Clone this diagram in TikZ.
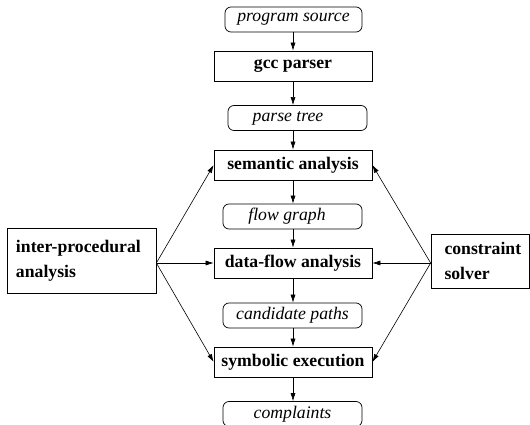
\documentclass[tikz,border=0pt]{standalone}
\usepackage{fontspec}
\setmainfont{Liberation Serif}
\newfontfamily\tms{Liberation Serif}
\usetikzlibrary{arrows.meta}
\begin{document}
\begin{tikzpicture}[x=1pt,y=-1pt,
  every node/.style={line width=0.7pt},
  proc/.style={draw, font=\tms\fontsize{17.7}{21}\selectfont\bfseries, inner sep=0pt, minimum width=158pt, minimum height=30pt},
  datum/.style={draw, rounded corners=6pt, font=\tms\fontsize{17.7}{21}\selectfont\itshape, inner sep=0pt, minimum width=139pt, minimum height=25pt},
  side/.style={draw, font=\tms\fontsize{17.7}{24.5}\selectfont\bfseries, inner xsep=0pt, inner ysep=0pt, align=left},
  arr/.style={-{Latex[length=8pt,width=5pt]}, line width=0.6pt}]
\useasboundingbox (0,0) rectangle (530,425);
\node[datum, minimum width=137pt] (src) at (293.5,19.5) {program source};
\node[proc] (gcc) at (293,66) {gcc parser};
\node[datum] (pt) at (297.5,118) {\hspace*{-19pt}parse tree};
\node[proc] (sem) at (293,165) {semantic analysis};
\node[datum] (fg) at (292.5,216.5) {\hspace*{-11pt}flow graph};
\node[proc] (df) at (293,263) {data-flow analysis};
\node[datum] (cp) at (292.5,315.5) {candidate paths};
\node[proc] (se) at (293,362) {symbolic execution};
\node[datum] (cm) at (292.5,414) {complaints};
\node[side, text width=131pt, minimum width=149pt, minimum height=65pt] (ip) at (81.5,261) {inter-procedural\\analysis};
\node[side, text width=71pt, minimum width=98pt, minimum height=54pt] (cs) at (480,261) {constraint\\solver};
\coordinate (ipo) at (ip.east |- df.west);
\coordinate (cso) at (cs.west |- df.east);
\draw[arr] (src.south -| gcc.north) -- (gcc.north);
\draw[arr] (gcc) -- (gcc.south |- pt.north);
\draw[arr] (gcc.south |- pt.south) -- (sem.north);
\draw[arr] (sem) -- (sem.south |- fg.north);
\draw[arr] (sem.south |- fg.south) -- (df.north);
\draw[arr] (df) -- (df.south |- cp.north);
\draw[arr] (df.south |- cp.south) -- (se.north);
\draw[arr] (se) -- (se.south |- cm.north);
\draw[arr] (ipo) -- (sem.west);
\draw[arr] (ipo) -- (df.west);
\draw[arr] (ipo) -- (se.west);
\draw[arr] (cso) -- (sem.east);
\draw[arr] (cso) -- (df.east);
\draw[arr] (cso) -- (se.east);
\end{tikzpicture}
\end{document}
